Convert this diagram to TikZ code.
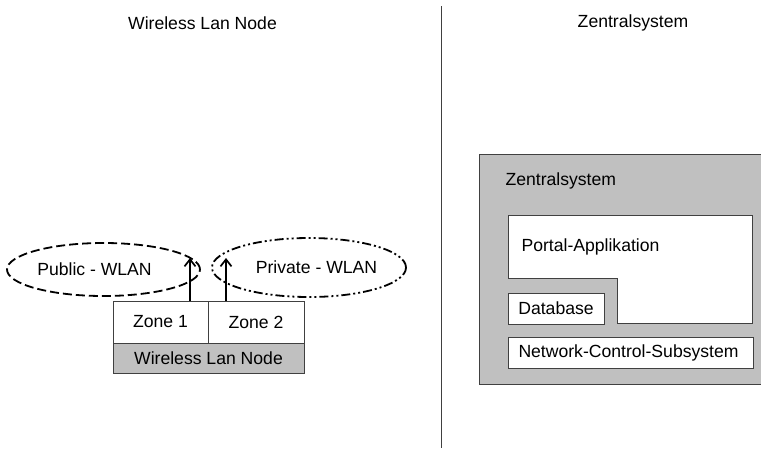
\documentclass[tikz,border=0pt]{standalone}
\usepackage{fontspec}
\setmainfont{Liberation Sans}
\usetikzlibrary{shapes.geometric,arrows.meta}
\definecolor{boxgray}{RGB}{192,192,192}
\definecolor{edgegray}{RGB}{64,64,64}

\begin{document}
\begin{tikzpicture}[x=1pt,y=-1pt,
        lbl/.style={font=\fontsize{17.6}{20}\selectfont},
        box/.style={draw=edgegray, line width=1pt, lbl, inner sep=0pt},
        zonebox/.style={box, fill=white, minimum width=95pt, minimum height=42pt},
        wlan/.style={ellipse, draw=black, line width=1.8pt, lbl, inner sep=0pt},
        up/.style={-{Straight Barb[length=7pt,width=11pt]}, line width=1.7pt}]

            \useasboundingbox (0,0) rectangle (761,448);

            % titles and divider
            \node[lbl] (lefttitle) at (202.5,23) {Wireless Lan Node};
            \node[lbl] (righttitle) at (633,23) {Zentralsystem};
            \draw[edgegray, line width=1pt] (441,6) -- (441,448);

            % wireless lan node
            \node[zonebox] (z1) at (160.5,322) {Zone 1};
            \node[zonebox, minimum width=96pt] (z2) at (256,322) {Zone 2};
            \node[box, fill=boxgray, minimum width=191pt, minimum height=30pt] (wln) at (208.5,358) {Wireless Lan Node};

            \node[wlan, dash pattern=on 9pt off 4pt, minimum width=193pt, minimum height=53pt] (pub) at (103.5,269.5) {};
            \node[lbl] (publbl) at (94.5,269.5) {Public - WLAN};
            \node[wlan, dash pattern=on 9pt off 3pt on 2pt off 3pt on 2pt off 3pt, minimum width=194pt, minimum height=59pt] (priv) at (309,267.5) {};
            \node[lbl] (privlbl) at (316.5,267.5) {Private - WLAN};

            \coordinate (t1) at (190,258);
            \coordinate (t2) at (226,258);
            \draw[up] (z1.north -| t1) -- (t1);
            \draw[up] (z2.north -| t2) -- (t2);

            % zentralsystem
            \fill[boxgray] (479,154) rectangle (762,384);
            \draw[edgegray, line width=1pt] (762,154) -- (479,154) -- (479,384) -- (762,384);
            \node[lbl, anchor=west] (zs) at (502,181) {Zentralsystem};

            \draw[edgegray, line width=1pt, fill=white]
                (508,215) -- (752,215) -- (752,323) -- (617,323) -- (617,278) -- (508,278) -- cycle;
            \node[lbl, anchor=west] (portal) at (518,247) {Portal-Applikation};

            \node[box, fill=white, minimum width=96pt, minimum height=31pt] (db) at (556,308.5) {Database};
            \node[box, fill=white, anchor=west, minimum height=31pt, inner xsep=10pt, text width=225pt, align=left] (ncs) at (508,352.5) {Network-Control-Subsystem};
        \end{tikzpicture}
\end{document}
